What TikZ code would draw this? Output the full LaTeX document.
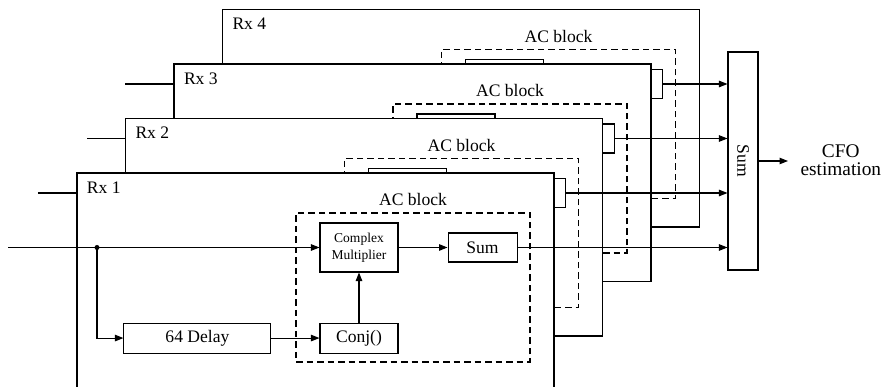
\documentclass[tikz,border=0pt]{standalone}
\usepackage{fontspec}
\setmainfont{Liberation Serif}
\usepackage{tikz}
\usetikzlibrary{arrows.meta,positioning}

% inner labels only on the front receiver, the others are hidden
\newcommand{\frontonly}[1]{\ifnum\i=1 #1\fi}

\begin{document}
\begin{tikzpicture}[
  line width=0.6pt,
  blk/.style={draw, fill=white, minimum width=1.56cm, minimum height=0.6cm, inner sep=1pt, align=center, font=\fontsize{10}{12}\selectfont},
  rxbox/.style={draw, fill=white, minimum width=9.54cm, minimum height=4.35cm, inner sep=0pt},
  acbox/.style={draw, dash pattern=on 1.3mm off 0.8mm, minimum width=4.68cm, minimum height=2.98cm, inner sep=0pt},
  lbl/.style={inner sep=0pt, font=\fontsize{10}{12}\selectfont},
  arr/.style={-{Triangle[length=1.7mm,width=1.3mm]}}
]
  \useasboundingbox (0,0) rectangle (17.8,-7.74);
  % one receiver per pass, back to front
  \foreach \i/\xin in {4/2.5,3/1.74,2/0.76,1/0.16} {
    \coordinate (in\i) at (\xin,0);
    \begin{scope}[shift={({0.97*(\i-1)},{1.09*(\i-1)})}]
      \node[rxbox] (rx\i) at (6.31,-5.635) {};
      \node[lbl, anchor=west] at ([xshift=0.2cm,yshift=-0.3cm]rx\i.north west) {Rx \i};
      \node[acbox] (ac\i) at (8.26,-5.75) {};
      \node[lbl, above=0.12cm of ac\i] {AC block};
      \node[blk, minimum height=0.98cm, font=\fontsize{7.7}{9.6}\selectfont] (mul\i) at (7.18,-4.95) {\frontonly{Complex\\Multiplier}};
      \node[blk, minimum width=1.38cm, minimum height=0.58cm, right=0.98cm of mul\i] (sum\i) {\frontonly{Sum}};
      \node[blk, below=1.0cm of mul\i] (conj\i) {\frontonly{Conj()}};
      \node[blk, minimum width=2.94cm, left=0.96cm of conj\i] (dly\i) {\frontonly{64 Delay}};
      \coordinate (br\i) at (1.94,-4.95);
      \draw[arr] (in\i |- mul\i.west) -- (mul\i.west);
      \draw[arr] (br\i) |- (dly\i.west);
      \fill (br\i) circle (0.05);
      \draw[arr] (dly\i) -- (conj\i);
      \draw[arr] (conj\i) -- (mul\i);
      \draw[arr] (mul\i) -- (sum\i);
    \end{scope}
  }
  % combining the four receivers
  \node[blk, rotate=-90, minimum width=4.36cm, minimum height=0.6cm] (bsum) at (14.86,-3.22) {Sum};
  \foreach \i in {1,...,4}
    \draw[arr] (sum\i.east) -- (sum\i.east -| bsum.south);
  \node[anchor=west, inner sep=0pt, align=center, font=\fontsize{11}{10.2}\selectfont] (cfo) at (16.0,-3.2) {CFO\\estimation};
  \draw[arr, shorten >=0.24cm] (bsum.north) -- (bsum.north -| cfo.west);
\end{tikzpicture}
\end{document}
